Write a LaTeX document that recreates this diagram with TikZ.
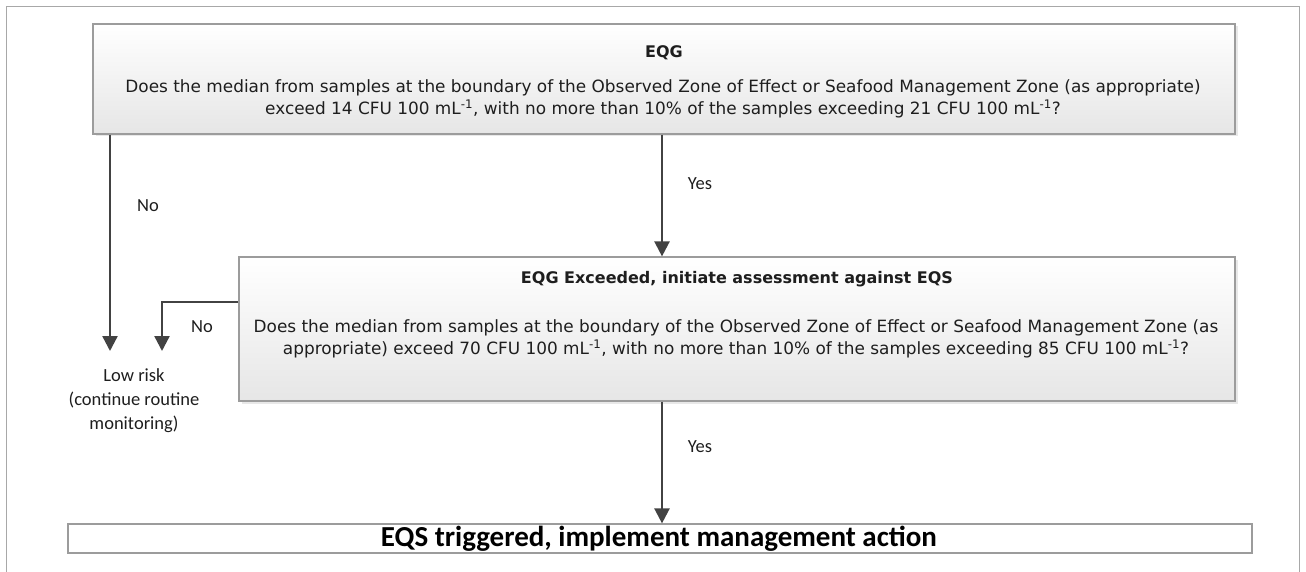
\documentclass[tikz,border=0pt]{standalone}
\usepackage{fontspec}
\setmainfont{DejaVu Sans}
\newfontfamily\labelfont{Carlito}
\usetikzlibrary{arrows.meta,shadows}

\definecolor{framegray}{HTML}{A8A8A8}
\definecolor{boxedge}{HTML}{9C9C9C}
\definecolor{arrowgray}{HTML}{424242}
\definecolor{ink}{HTML}{1E1E1E}
\definecolor{boxbottom}{HTML}{E6E6E6}

\begin{document}
\begin{tikzpicture}[x=1pt,y=-1pt,
  decision/.style={draw=boxedge, line width=1.2pt, top color=white, bottom color=boxbottom,
    drop shadow={shadow xshift=2.5pt, shadow yshift=-2.5pt, opacity=0.18}},
  outcome/.style={draw=boxedge, line width=1.2pt, fill=white},
  boxtitle/.style={text=ink, font=\fontsize{16}{22}\selectfont\bfseries, inner sep=0pt},
  boxbody/.style={text=ink, font=\fontsize{16.9}{22}\selectfont, align=center, inner sep=0pt},
  branch/.style={text=ink, font=\labelfont\fontsize{18.5}{24}\selectfont, inner sep=0pt},
  flow/.style={draw=arrowgray, line width=2.4pt, -{Triangle[length=15pt,width=15pt]}}]

% page area and outer frame
\useasboundingbox (0,0) rectangle (1306,572);
\draw[framegray, line width=1pt] (6,572) -- (6,7) -- (1299,7) -- (1299,572);

% boxes
\node[decision, minimum width=1142pt, minimum height=110pt] (eqg) at (664,79) {};
\node[decision, minimum width=996pt, minimum height=144pt] (eqs) at (737,329) {};
\node[outcome, minimum width=1184pt, minimum height=29pt] (act) at (660,538.5) {};

% box texts
\node[boxtitle] (eqgtitle) at (664,53) {EQG};
\node[boxbody] (eqgbody) at (663,99) {Does the median from samples at the boundary of the Observed Zone of Effect or Seafood Management Zone (as appropriate)\\
exceed 14 CFU 100 mL\textsuperscript{-1}, with no more than 10\% of the samples exceeding 21 CFU 100 mL\textsuperscript{-1}?};

\node[boxtitle] (eqstitle) at (737,279) {EQG Exceeded, initiate assessment against EQS};
\node[boxbody] (eqsbody) at (736,339) {Does the median from samples at the boundary of the Observed Zone of Effect or Seafood Management Zone (as\\
appropriate) exceed 70 CFU 100 mL\textsuperscript{-1}, with no more than 10\% of the samples exceeding 85 CFU 100 mL\textsuperscript{-1}?};

\node[text=black, font=\labelfont\fontsize{29}{32}\selectfont\bfseries, inner sep=0pt] (acttext) at (659,539) {EQS triggered, implement management action};

% low-risk outcome
\node[branch, align=center] (low) at (134,401) {Low risk\\(continue routine\\monitoring)};
\coordinate (lowA) at (110,351);
\coordinate (lowB) at (162,351);
\coordinate (bend) at (162,302);
\coordinate (yesx) at (662,0);

% connectors
\draw[flow] (eqg.south -| lowA) -- (lowA);
\draw[flow] (eqg.south -| yesx) -- (eqs.north -| yesx);
\draw[flow] (eqs.west |- bend) -- (bend) -- (lowB);
\draw[flow] (eqs.south -| yesx) -- (act.north -| yesx);

% branch labels
\node[branch] (no1) at (148,206) {No};
\node[branch] (yes1) at (700,184) {Yes};
\node[branch] (no2) at (202,327) {No};
\node[branch] (yes2) at (700,447) {Yes};
\end{tikzpicture}
\end{document}
